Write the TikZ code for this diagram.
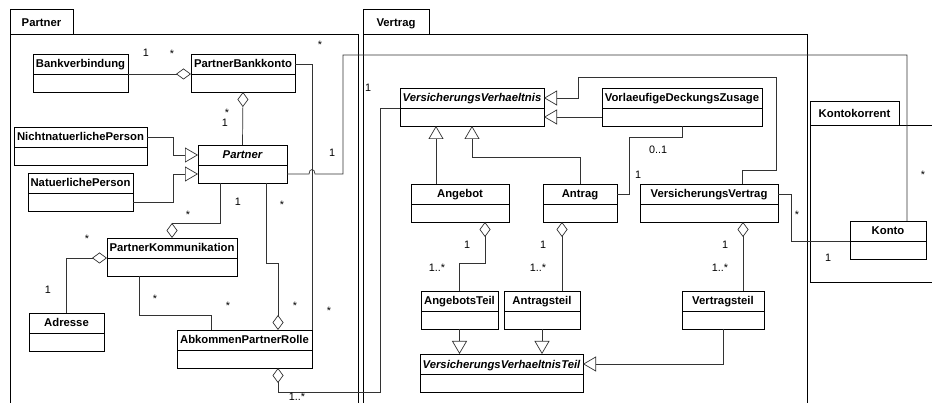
\documentclass[tikz,border=0pt]{standalone}
\usepackage{fontspec}
\setmainfont{Liberation Sans}
\usetikzlibrary{arrows.meta}

\begin{document}
\begin{tikzpicture}[x=1pt, y=-1pt,
		classhead/.style={draw, fill=white, font=\fontsize{11.3}{13}\selectfont\bfseries, minimum height=20pt, text height=8pt, text depth=0pt, inner xsep=1pt, inner ysep=0pt, outer sep=0pt, line width=0.8pt},
		classbody/.style={draw, fill=white, minimum height=18pt, inner sep=0pt, outer sep=0pt, anchor=north, line width=0.8pt},
		abstract/.style={font=\fontsize{11.3}{13}\selectfont\bfseries\itshape},
		pkgtab/.style={draw, font=\fontsize{11.3}{13}\selectfont\bfseries, text height=8pt, text depth=0pt, line width=1pt, inner sep=0pt, outer sep=0pt, minimum height=25pt},
		pkg/.style={draw, line width=1pt},
		conn/.style={draw=black!80, line width=0.7pt},
		gen/.style={conn, -{Triangle[open, length=13pt, width=15pt]}},
		agg/.style={conn, -{Diamond[open, length=15pt, width=11pt]}},
		mult/.style={inner sep=0pt, font=\fontsize{10.8}{12}\selectfont},
		star/.style={mult, yshift=-2.3pt}
	]
		\useasboundingbox (0,0) rectangle (932,403);
		\clip (0,0) rectangle (932,403);
		\fill[white] (0,0) rectangle (932,403);

		% packages
		\node[pkgtab, minimum width=63pt] (ptab) at (41.5,22.5) {Partner};
		\draw[pkg] (ptab.south west) rectangle (358,420);
		\node[pkgtab, minimum width=66pt] (vtab) at (396,22.5) {Vertrag};
		\draw[pkg] (vtab.south west) rectangle (807,420);
		\node[pkgtab, minimum width=89pt, minimum height=24pt] (ktab) at (854.5,114) {Kontokorrent};
		\draw[pkg] (ktab.south west) rectangle (940,283);

		% Partner
		\node[classhead, minimum width=95pt] (bv) at (80.5,64) {Bankverbindung};
		\node[classbody, minimum width=95pt] (bvb) at (bv.south) {};
		\node[classhead, minimum width=104pt] (pbk) at (243,64) {PartnerBankkonto};
		\node[classbody, minimum width=104pt] (pbkb) at (pbk.south) {};
		\node[classhead, minimum width=133pt] (nnp) at (80.5,137) {NichtnatuerlichePerson};
		\node[classbody, minimum width=133pt] (nnpb) at (nnp.south) {};
		\node[classhead, abstract, minimum width=89pt] (par) at (242.5,155) {Partner};
		\node[classbody, minimum width=89pt] (parb) at (par.south) {};
		\node[classhead, minimum width=105pt] (np) at (80.5,183) {NatuerlichePerson};
		\node[classbody, minimum width=105pt] (npb) at (np.south) {};
		\node[classhead, minimum width=130pt] (pk) at (172,248) {PartnerKommunikation};
		\node[classbody, minimum width=130pt] (pkb) at (pk.south) {};
		\node[classhead, minimum width=75pt] (adr) at (66.5,323) {Adresse};
		\node[classbody, minimum width=75pt] (adrb) at (adr.south) {};
		\node[classhead, minimum width=135pt] (apr) at (244.5,340) {AbkommenPartnerRolle};
		\node[classbody, minimum width=135pt] (aprb) at (apr.south) {};

		% Vertrag
		\node[classhead, abstract, minimum width=144pt] (vv) at (472,98) {VersicherungsVerhaeltnis};
		\node[classbody, minimum width=144pt] (vvb) at (vv.south) {};
		\node[classhead, minimum width=160pt] (vdz) at (682,98) {VorlaeufigeDeckungsZusage};
		\node[classbody, minimum width=160pt] (vdzb) at (vdz.south) {};
		\node[classhead, minimum width=98pt] (ang) at (460,194) {Angebot};
		\node[classbody, minimum width=98pt] (angb) at (ang.south) {};
		\node[classhead, minimum width=74pt] (antr) at (580,194) {Antrag};
		\node[classbody, minimum width=74pt] (antrb) at (antr.south) {};
		\node[classhead, minimum width=138pt] (vvtr) at (709,194) {VersicherungsVertrag};
		\node[classbody, minimum width=138pt] (vvtrb) at (vvtr.south) {};
		\node[classhead, minimum width=77pt] (angt) at (459.5,301) {AngebotsTeil};
		\node[classbody, minimum width=77pt] (angtb) at (angt.south) {};
		\node[classhead, minimum width=76pt] (antt) at (542,301) {Antragsteil};
		\node[classbody, minimum width=76pt] (anttb) at (antt.south) {};
		\node[classhead, minimum width=82pt] (vtt) at (723,301) {Vertragsteil};
		\node[classbody, minimum width=82pt] (vttb) at (vtt.south) {};
		\node[classhead, abstract, minimum width=163pt] (vvt) at (501.5,364) {VersicherungsVerhaeltnisTeil};
		\node[classbody, minimum width=163pt] (vvtb) at (vvt.south) {};

		% Kontokorrent
		\node[classhead, minimum width=76pt] (kto) at (888,231) {Konto};
		\node[classbody, minimum width=76pt] (ktob) at (kto.south) {};

		% connectors in Partner
		\draw[agg] (bv.south east) -- (pbk.south west);
		\draw[agg] (par.north) -- (pbkb.south);
		\draw[gen] (nnp.east) -| (173,155) -- (par.west);
		\draw[gen] (npb.east) -| (173,174) -- (parb.west);
		\draw[agg] ([xshift=22pt]parb.south west) |- ([yshift=15pt]pk.north) -- (pk.north);
		\draw[agg] (adr.north) |- (pk.south west);
		\draw[conn] ([xshift=32pt]pkb.south west) -- ++(0,39) -| ([xshift=34pt]apr.north west);
		\draw[agg] ([xshift=68pt]parb.south west) -- ++(0,80) -| ([xshift=101pt]apr.north west);
		\draw[conn] (pbk.east) -| (apr.north east);

		% across the packages
		\draw[conn] (parb.east) -- (309,174) .. controls (309,168) and (315,168) .. (315,174) -| (343,55) -| ([xshift=57pt]kto.north west);
		\draw[agg] (vv.south west) -| (380,392) -| ([xshift=101pt]aprb.south west);
		\draw[conn] (vvtr.east) -- ++(13,0) |- (kto.south west);

		% connectors in Vertrag
		\draw[gen] (vdzb.west) -- (vvb.east);
		\draw[gen] ([xshift=102pt]vvtr.north west) -- ++(0,-14) -| (776,77) -| (578,98) -- (vv.east);
		\draw[gen] ([xshift=25pt]ang.north west) -- ([xshift=36pt]vvb.south west);
		\draw[gen] (antr.north) -- ++(0,-27) -| ([xshift=72pt]vvb.south west);
		\draw[conn] (antr.east) -- ++(12,0) -- ++(0,-57) -| (vdzb.south);
		\draw[agg] (angt.north) -- ++(0,-28) -| ([xshift=74pt]angb.south west);
		\draw[agg] ([xshift=58pt]antt.north west) -- ([xshift=19pt]antrb.south west);
		\draw[agg] ([xshift=61pt]vtt.north west) -- ([xshift=103pt]vvtrb.south west);
		\draw[gen] (angtb.south) -- (angtb.south |- vvt.north);
		\draw[gen] (anttb.south) -- (anttb.south |- vvt.north);
		\draw[gen] (vttb.south) |- (vvt.east);

		% multiplicities
		\node[mult] (m1) at (146,53) {1};
		\node[star] (m2) at (172,51) {*};
		\node[star] (m3) at (227,110) {*};
		\node[mult] (m4) at (225,123) {1};
		\node[mult] (m5) at (238,202) {1};
		\node[star] (m6) at (188,212) {*};
		\node[star] (m7) at (87,236) {*};
		\node[mult] (m8) at (48,290) {1};
		\node[star] (m9) at (155,296) {*};
		\node[star] (m10) at (228,303) {*};
		\node[star] (m11) at (282,202) {*};
		\node[star] (m12) at (295,303) {*};
		\node[star] (m13) at (320,42) {*};
		\node[star] (m14) at (329,308) {*};
		\node[mult] (m15) at (332,153) {1};
		\node[star] (m16) at (923,172) {*};
		\node[mult] (m17) at (368,88) {1};
		\node[mult] (m18) at (297,396.5) {1..*};
		\node[mult] (m19) at (658,150) {0..1};
		\node[mult] (m20) at (638,175) {1};
		\node[star] (m21) at (797,212) {*};
		\node[mult] (m22) at (828,258) {1};
		\node[mult] (m23) at (467,245) {1};
		\node[mult] (m24) at (437,268) {1..*};
		\node[mult] (m25) at (543,245) {1};
		\node[mult] (m26) at (538,268) {1..*};
		\node[mult] (m27) at (725,245) {1};
		\node[mult] (m28) at (720,268) {1..*};
	\end{tikzpicture}
\end{document}
